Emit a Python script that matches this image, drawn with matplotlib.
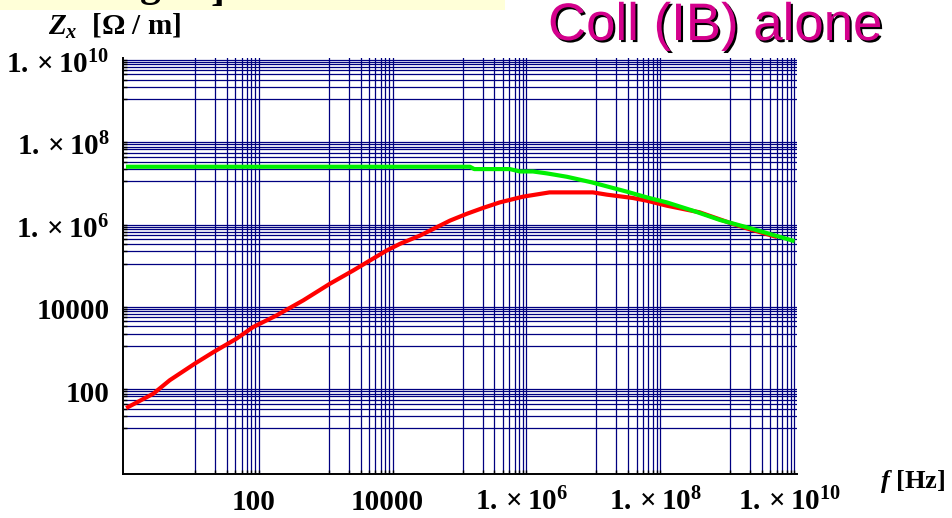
import matplotlib
matplotlib.use("Agg")
import matplotlib.pyplot as plt
from matplotlib import patheffects as pe
from matplotlib.patches import Rectangle
from matplotlib.transforms import ScaledTranslation

plt.rcParams['font.family'] = 'Liberation Serif'
plt.rcParams['font.weight'] = 'bold'
plt.rcParams['mathtext.fontset'] = 'custom'
plt.rcParams['mathtext.rm'] = 'Liberation Serif:bold'
plt.rcParams['mathtext.bf'] = 'Liberation Serif:bold'
plt.rcParams['mathtext.it'] = 'Liberation Serif:bold:italic'

# Impedance per unit length vs frequency, collimator (IB) alone
f_red = [1.0, 2.4, 4.2, 10, 19, 42, 74, 166, 416, 1.04e3, 2.32e3, 7.3e3,
         1.16e4, 2.31e4, 6.5e4, 1.15e5, 2.02e5, 3.6e5, 8.0e5, 2.0e6, 8.9e6,
         1.44e7, 3.5e7, 5.7e7, 1.13e8, 3.5e8, 1.1e9, 1.8e9, 4.7e9]
z_red = [33, 70, 148, 376, 718, 1.52e3, 2.9e3, 5.56e3, 1.29e4, 3.27e4,
         6.86e4, 2.09e5, 3.05e5, 4.84e5, 1.12e6, 1.63e6, 2.27e6, 3.1e6,
         4.27e6, 5.43e6, 5.43e6, 4.78e6, 3.97e6, 3.41e6, 2.58e6, 1.78e6,
         9.3e5, 7.2e5, 4.6e5]

f_green = [1.0, 1.29e5, 1.5e5, 5.1e5, 7.2e5, 1.13e6, 1.83e6, 3.64e6, 8.6e6,
           1.44e7, 2.86e7, 5.7e7, 1.13e8, 2.78e8, 7.05e8, 1.78e9, 4.37e9,
           8.6e9]
z_green = [2.28e7, 2.28e7, 2.0e7, 2.0e7, 1.75e7, 1.75e7, 1.57e7, 1.30e7,
           9.5e6, 7.6e6, 5.65e6, 4.1e6, 3.1e6, 1.95e6, 1.16e6, 7.7e5, 5.04e5,
           3.66e5]

x_ticks = [1e2, 1e4, 1e6, 1e8, 1e10]
x_tick_labels = ["100", "10000", r"$1.\times10^{6}$", r"$1.\times10^{8}$",
                 r"$1.\times10^{10}$"]
y_ticks = [1e2, 1e4, 1e6, 1e8, 1e10]
y_tick_labels = ["100", "10000", r"$1.\times10^{6}$", r"$1.\times10^{8}$",
                 r"$1.\times10^{10}$"]
grid_decades = [1, 3, 5, 7, 9]

W, H = 952, 518
fig = plt.figure(figsize=(W / 100, H / 100), dpi=100)
left, right, bottom, top = 123.3, 797.0, 474.0, 58.0
ax = fig.add_axes([left / W, 1 - bottom / H, (right - left) / W, (bottom - top) / H])

ax.set_xscale('log')
ax.set_yscale('log')
ax.set_xlim(0.85, 1e10)
ax.set_ylim(0.78, 1e10)

minor_pos = [k * 10.0 ** n for n in grid_decades for k in range(1, 10)]
ax.set_xticks(minor_pos, minor=True)
ax.set_yticks(minor_pos, minor=True)
ax.set_xticks(x_ticks)
ax.set_yticks(y_ticks)
ax.set_xticklabels(x_tick_labels, fontsize=21)
ax.set_yticklabels(y_tick_labels, fontsize=21)
ax.xaxis.set_minor_formatter(plt.NullFormatter())
ax.yaxis.set_minor_formatter(plt.NullFormatter())

ax.grid(which='minor', color='#000080', lw=0.9, zorder=1)
ax.grid(which='major', visible=False)
ax.tick_params(which='minor', direction='in', length=3, width=1, color='black')
ax.tick_params(which='major', length=0)
ax.tick_params(axis='x', which='major', pad=0)
ax.tick_params(axis='y', which='major', pad=10)

for s in ('top', 'right'):
    ax.spines[s].set_visible(False)
for s in ('left', 'bottom'):
    ax.spines[s].set_linewidth(1.4)
    ax.spines[s].set_color('black')

xoff = ScaledTranslation(-8 / 100, -36 / 100, fig.dpi_scale_trans)
for lab in ax.get_xticklabels():
    lab.set_va('baseline')
    lab.set_transform(lab.get_transform() + xoff)
yoff = ScaledTranslation(0, -4 / 100, fig.dpi_scale_trans)
for lab in ax.get_yticklabels():
    lab.set_transform(lab.get_transform() + yoff)

ax.plot(f_red, z_red, color='#ff0000', lw=3.0, zorder=3, clip_on=False)
ax.plot(f_green, z_green, color='#00f000', lw=3.0, zorder=4, clip_on=False)

# axis captions
fig.text(48 / W, 1 - 35 / H, r"$Z_{x}$  [Ω / m]", fontsize=21, ha='left', va='baseline')
fig.text(880 / W, 1 - 488 / H, r"$f$ [Hz]", fontsize=19, ha='left', va='baseline')

# strip of the slide header above the chart
fig.patches.append(Rectangle((0, 1 - 10 / H), 505 / W, 10 / H, transform=fig.transFigure,
                             facecolor='#ffffd8', edgecolor='none', zorder=0))
fig.text(140 / W, 1 + 4 / H, "g", fontsize=30, ha='left', va='baseline')
fig.text(211 / W, 1 + 0.5 / H, "]", fontsize=30, ha='left', va='baseline')

fig.text(548 / W, 1 - 1 / H, "Coll (IB) alone", fontsize=38, family='Liberation Sans',
         fontweight='normal', color='#d4008c', ha='left', va='top',
         path_effects=[pe.SimplePatchShadow(offset=(1.5, -1.5), shadow_rgbFace='black', alpha=1.0),
                       pe.Normal()])

fig.savefig('out.png', dpi=100)
